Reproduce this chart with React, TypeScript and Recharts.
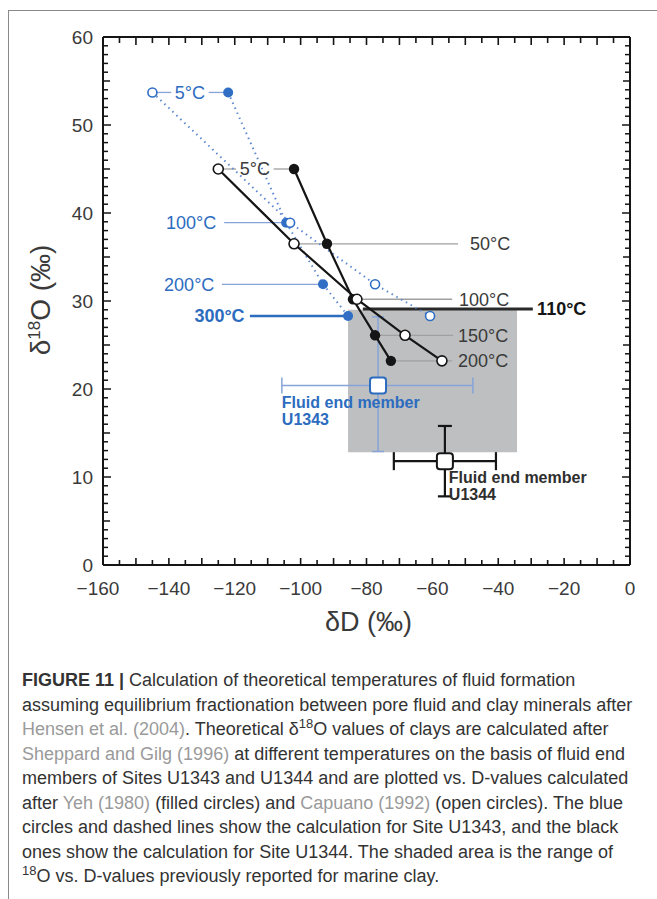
import React from 'react';
import { ScatterChart, Scatter, XAxis, YAxis, ReferenceArea, ReferenceLine, ErrorBar } from 'recharts';

const FONT = '"Liberation Sans", Arial, Helvetica, sans-serif';
const BLUE = '#2c6cbf';
const BLUE_DOT = '#2f6ec4';
const BLUE_THIN = '#86a4d8';
const BLUE_DOTTED = '#5f8ad2';
const GRAY = '#a0a0a0';
const INK = '#151515';
const TEXT = '#3a3a3a';
const CLAY = '#bdbfc1';

// Site U1343 (blue): temperatures, d18O of clays, dD after Yeh (filled) and Capuano (open)
const U1343_TEMPS = ['5°C', '100°C', '200°C', '300°C'];
const U1343_D18O = [53.7, 38.9, 31.9, 28.3];
const U1343_YEH_DD = [-122, -104.4, -93.2, -85.6];
const U1343_CAP_DD = [-145, -103.2, -77.4, -60.7];

// Site U1344 (black)
const U1344_TEMPS = ['5°C', '50°C', '100°C', '150°C', '200°C'];
const U1344_D18O = [45, 36.5, 30.2, 26.1, 23.2];
const U1344_YEH_DD = [-102, -92, -84.1, -77.4, -72.6];
const U1344_CAP_DD = [-125, -102, -82.9, -68.3, -57.1];

// shaded marine clay range
const CLAY_DD = [-85.6, -34.3];
const CLAY_D18O = [12.8, 29.0];

// 110 °C line
const T110_D18O = 29.1;
const T110_DD = [-81.1, -29.5];

// fluid end members
const EM_NAMES = ['U1343', 'U1344'];
const EM_DD = [-76.5, -56.2];
const EM_D18O = [20.4, 11.8];
const EM_DD_RANGE = [[-105.7, -47.7], [-71.7, -40.7]];
const EM_D18O_RANGE = [[12.9, 28.2], [7.8, 15.8]];

const X_LABELS = [-160, -140, -120, -100, -80, -60, -40, -20, 0];
const Y_LABELS = [0, 10, 20, 30, 40, 50, 60];
const X_TICKS = Array.from({ length: 33 }, (_, i) => -160 + i * 5);
const Y_TICKS = Array.from({ length: 61 }, (_, i) => i);

const pts = (xs: number[], ys: number[], temps: string[]) =>
  xs.map((x, i) => ({ x, y: ys[i], t: temps[i] }));

const u1343Yeh = pts(U1343_YEH_DD, U1343_D18O, U1343_TEMPS);
const u1343Cap = pts(U1343_CAP_DD, U1343_D18O, U1343_TEMPS);
const u1344Yeh = pts(U1344_YEH_DD, U1344_D18O, U1344_TEMPS);
const u1344Cap = pts(U1344_CAP_DD, U1344_D18O, U1344_TEMPS);

const endMember = (i: number) => [{
  name: EM_NAMES[i],
  x: EM_DD[i],
  y: EM_D18O[i],
  ex: [EM_DD[i] - EM_DD_RANGE[i][0], EM_DD_RANGE[i][1] - EM_DD[i]],
  ey: [EM_D18O[i] - EM_D18O_RANGE[i][0], EM_D18O_RANGE[i][1] - EM_D18O[i]],
}];

// temperature tags: text position + leader segments (dD units)
type Tag = {
  text: string; y: number; x: number; anchor: string; color: string; bold?: boolean;
  segs: number[][]; line: string; lw: number;
};
const TAGS: Tag[] = [
  { text: U1343_TEMPS[0], y: U1343_D18O[0], x: -133.6, anchor: 'middle', color: BLUE, segs: [[U1343_CAP_DD[0], -139.3], [-127.9, U1343_YEH_DD[0]]], line: BLUE_THIN, lw: 1.3 },
  { text: U1343_TEMPS[1], y: U1343_D18O[1], x: -125.6, anchor: 'end', color: BLUE, segs: [[-123.2, U1343_YEH_DD[1]]], line: BLUE_THIN, lw: 1.3 },
  { text: U1343_TEMPS[2], y: U1343_D18O[2], x: -126.2, anchor: 'end', color: BLUE, segs: [[-123.9, U1343_YEH_DD[2]]], line: BLUE_THIN, lw: 1.3 },
  { text: U1343_TEMPS[3], y: U1343_D18O[3], x: -117.0, anchor: 'end', color: BLUE, bold: true, segs: [[-115.4, U1343_YEH_DD[3]]], line: BLUE, lw: 2.5 },
  { text: U1344_TEMPS[0], y: U1344_D18O[0], x: -113.9, anchor: 'middle', color: TEXT, segs: [[U1344_CAP_DD[0], -119.6], [-108.2, U1344_YEH_DD[0]]], line: GRAY, lw: 1.3 },
  { text: U1344_TEMPS[1], y: U1344_D18O[1], x: -48.6, anchor: 'start', color: TEXT, segs: [[U1344_CAP_DD[1], -52.2]], line: GRAY, lw: 1.3 },
  { text: U1344_TEMPS[2], y: U1344_D18O[2], x: -51.9, anchor: 'start', color: TEXT, segs: [[U1344_CAP_DD[2], -54]], line: GRAY, lw: 1.3 },
  { text: '110°C', y: T110_D18O, x: -28.2, anchor: 'start', color: INK, bold: true, segs: [T110_DD], line: '#2a2a2a', lw: 3 },
  { text: U1344_TEMPS[3], y: U1344_D18O[3], x: -52.2, anchor: 'start', color: TEXT, segs: [[U1344_YEH_DD[3], -53.7]], line: GRAY, lw: 1.3 },
  { text: U1344_TEMPS[4], y: U1344_D18O[4], x: -52.2, anchor: 'start', color: TEXT, segs: [[U1344_YEH_DD[4], -54]], line: GRAY, lw: 1.3 },
];

const EM_TAGS = [
  { x: -105.7, y: 18.5, lines: ['Fluid end member', 'U1343'], color: BLUE },
  { x: -55.0, y: 9.9, lines: ['Fluid end member', 'U1344'], color: '#2e2e2e' },
];

const fmt = (v: number) => (v < 0 ? `\u2212${Math.abs(v)}` : `${v}`);

const BottomTick = (p: any) => {
  const v = p.payload.value;
  const len = v % 10 === 0 ? 7 : 5;
  return (
    <g>
      <line x1={p.x} x2={p.x} y1={p.y} y2={p.y - len} stroke={INK} strokeWidth={1.6} />
      {X_LABELS.includes(v) && (
        <text x={v === -160 ? p.x - 5 : p.x} y={p.y + 23} dy="0.35em" textAnchor="middle" fontSize={19} fill={TEXT} fontFamily={FONT}>
          {fmt(v)}
        </text>
      )}
    </g>
  );
};

const TopTick = (p: any) => {
  const v = p.payload.value;
  const len = v % 10 === 0 ? 8 : 6;
  return <line x1={p.x} x2={p.x} y1={p.y} y2={p.y + len} stroke={INK} strokeWidth={1.6} />;
};

const LeftTick = (p: any) => {
  const v = p.payload.value;
  const len = v % 10 === 0 ? 8 : v % 5 === 0 ? 7 : 5;
  return (
    <g>
      <line x1={p.x} x2={p.x + len} y1={p.y} y2={p.y} stroke={INK} strokeWidth={1.5} />
      {Y_LABELS.includes(v) && (
        <text x={p.x - 10} y={p.y} dy="0.35em" textAnchor="end" fontSize={19} fill={TEXT} fontFamily={FONT}>
          {v}
        </text>
      )}
    </g>
  );
};

const RightTick = (p: any) => {
  const v = p.payload.value;
  const len = v % 10 === 0 ? 8 : v % 5 === 0 ? 7 : 5;
  return <line x1={p.x} x2={p.x - len} y1={p.y} y2={p.y} stroke={INK} strokeWidth={1.5} />;
};

const YTitle = (p: any) => {
  const vb = p.viewBox;
  const cx = vb.x + 31;
  const cy = vb.y + vb.height / 2 - 1;
  return (
    <text transform={`rotate(-90 ${cx} ${cy})`} x={cx} y={cy} dy="0.35em" textAnchor="middle" fontSize={28} fill={TEXT} fontFamily={FONT}>
      δ<tspan fontSize={17} dy={-10}>18</tspan>
      <tspan dy={10}>O (‰)</tspan>
    </text>
  );
};

const XTitle = (p: any) => {
  const vb = p.viewBox;
  return (
    <text x={vb.x + vb.width / 2 + 2} y={vb.y + 57} dy="0.35em" textAnchor="middle" fontSize={27} fill={TEXT} fontFamily={FONT}>
      δD (‰)
    </text>
  );
};

const openDot = (stroke: string, r: number) => (p: any) =>
  <circle cx={p.cx} cy={p.cy} r={r} fill="#fff" stroke={stroke} strokeWidth={1.6} />;
const fillDot = (fill: string, r: number) => (p: any) =>
  <circle cx={p.cx} cy={p.cy} r={r} fill={fill} />;
const noDot = () => <g />;

const TagText = (p: any) => {
  const d = p.payload;
  return (
    <text x={p.cx} y={p.cy} dy="0.35em" textAnchor={d.anchor} fontSize={18} fontWeight={d.bold ? 700 : 400} fill={d.color} fontFamily={FONT}>
      {d.text}
    </text>
  );
};

const EmText = (p: any) => {
  const d = p.payload;
  return (
    <text x={p.cx} y={p.cy} fontSize={16} fontWeight={700} fill={d.color} fontFamily={FONT}>
      {d.lines.map((l: string, i: number) => (
        <tspan key={i} x={p.cx} dy={i === 0 ? '0.35em' : 17}>{l}</tspan>
      ))}
    </text>
  );
};

const emSquare = (c: string) => (p: any) =>
  <rect x={p.cx - 8} y={p.cy - 8} width={16} height={16} rx={3} fill="#fff" stroke={c} strokeWidth={2} />;

export default function App() {
  return (
    <div style={{ position: 'fixed', left: 8, top: 10, width: 649, height: 889, borderLeft: '1px solid #8a8a8a', borderTop: '1px solid #8a8a8a', overflow: 'hidden', fontFamily: FONT, background: '#fff' }}>
      <ScatterChart width={648} height={640} margin={{ top: 25, right: 26, bottom: 0, left: 0 }}>
        <XAxis type="number" dataKey="x" domain={[-160, 0]} ticks={X_TICKS} interval={0} height={86}
          tickLine={false} tickSize={0} tickMargin={0} tick={BottomTick}
          axisLine={{ stroke: INK, strokeWidth: 2 }} label={XTitle} />
        <XAxis xAxisId="t" orientation="top" type="number" dataKey="x" domain={[-160, 0]} ticks={X_TICKS} interval={0} height={1}
          tickLine={false} tickSize={0} tickMargin={0} tick={TopTick} axisLine={{ stroke: INK, strokeWidth: 2 }} />
        <YAxis type="number" dataKey="y" domain={[0, 60]} ticks={Y_TICKS} interval={0} width={94}
          tickLine={false} tickSize={0} tickMargin={0} tick={LeftTick}
          axisLine={{ stroke: INK, strokeWidth: 2 }} label={YTitle} />
        <YAxis yAxisId="r" orientation="right" type="number" dataKey="y" domain={[0, 60]} ticks={Y_TICKS} interval={0} width={1}
          tickLine={false} tickSize={0} tickMargin={0} tick={RightTick} axisLine={{ stroke: INK, strokeWidth: 2 }} />

        <ReferenceArea x1={CLAY_DD[0]} x2={CLAY_DD[1]} y1={CLAY_D18O[0]} y2={CLAY_D18O[1]} fill={CLAY} fillOpacity={1} stroke="none" />

        {TAGS.map((t, i) =>
          t.segs.map((s, j) => (
            <ReferenceLine key={`${i}-${j}`} segment={[{ x: s[0], y: t.y }, { x: s[1], y: t.y }]} stroke={t.line} strokeWidth={t.lw} />
          ))
        )}

        {/* frame axes need a series to show */}
        <Scatter data={u1344Cap} xAxisId="t" yAxisId="r" shape={noDot} isAnimationActive={false} />

        <Scatter data={endMember(0)} shape={emSquare(BLUE)} isAnimationActive={false}>
          <ErrorBar dataKey="ex" direction="x" width={8} stroke={BLUE_THIN} strokeWidth={1.5} />
          <ErrorBar dataKey="ey" direction="y" width={6} stroke={BLUE_THIN} strokeWidth={1.5} />
        </Scatter>
        <Scatter data={endMember(1)} shape={emSquare(INK)} isAnimationActive={false}>
          <ErrorBar dataKey="ex" direction="x" width={9} stroke={INK} strokeWidth={2.2} />
          <ErrorBar dataKey="ey" direction="y" width={7} stroke={INK} strokeWidth={2.2} />
        </Scatter>

        <Scatter data={u1343Yeh} shape={fillDot(BLUE_DOT, 5)} line={{ stroke: BLUE_DOTTED, strokeWidth: 2, strokeDasharray: '1.5 4' }} isAnimationActive={false} />
        <Scatter data={u1343Cap} shape={openDot(BLUE_DOT, 4.5)} line={{ stroke: BLUE_DOTTED, strokeWidth: 2, strokeDasharray: '1.5 4' }} isAnimationActive={false} />
        <Scatter data={u1344Yeh} shape={fillDot(INK, 5.2)} line={{ stroke: INK, strokeWidth: 2.2 }} isAnimationActive={false} />
        <Scatter data={u1344Cap} shape={openDot(INK, 5)} line={{ stroke: INK, strokeWidth: 2.2 }} isAnimationActive={false} />

        <Scatter data={TAGS} shape={TagText} isAnimationActive={false} />
        <Scatter data={EM_TAGS} shape={EmText} isAnimationActive={false} />
      </ScatterChart>

      <div style={{ position: 'absolute', left: 13, top: 657, fontSize: 18, lineHeight: '24.5px', color: '#333', whiteSpace: 'nowrap' }}>
        <div><b>FIGURE 11 |</b> Calculation of theoretical temperatures of fluid formation</div>
        <div>assuming equilibrium fractionation between pore fluid and clay minerals after</div>
        <div><span style={{ color: '#9a9a9a' }}>Hensen et al. (2004)</span>. Theoretical δ<sup style={{ fontSize: 13, lineHeight: 0 }}>18</sup>O values of clays are calculated after</div>
        <div><span style={{ color: '#9a9a9a' }}>Sheppard and Gilg (1996)</span> at different temperatures on the basis of fluid end</div>
        <div>members of Sites U1343 and U1344 and are plotted vs. D-values calculated</div>
        <div>after <span style={{ color: '#9a9a9a' }}>Yeh (1980)</span> (filled circles) and <span style={{ color: '#9a9a9a' }}>Capuano (1992)</span> (open circles). The blue</div>
        <div>circles and dashed lines show the calculation for Site U1343, and the black</div>
        <div>ones show the calculation for Site U1344. The shaded area is the range of</div>
        <div><sup style={{ fontSize: 13, lineHeight: 0 }}>18</sup>O vs. D-values previously reported for marine clay.</div>
      </div>
    </div>
  );
}
